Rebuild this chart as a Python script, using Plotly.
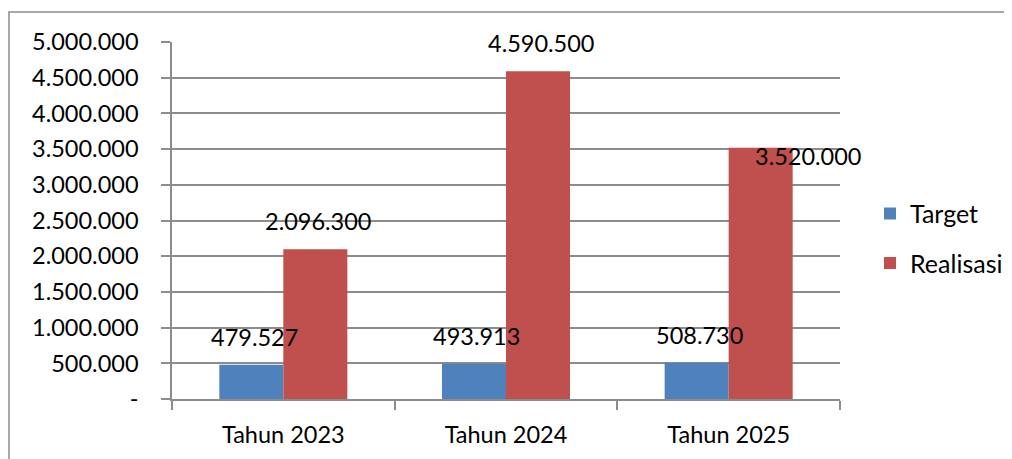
import plotly.graph_objects as go

categories = ["Tahun 2023", "Tahun 2024", "Tahun 2025"]
target = [479527, 493913, 508730]
realisasi = [2096300, 4590500, 3520000]
tick_vals = [0, 500000, 1000000, 1500000, 2000000, 2500000, 3000000, 3500000, 4000000, 4500000, 5000000]

def fmt(v):
    return "-" if v == 0 else f"{v:,}".replace(",", ".")

tick_text = [fmt(v) for v in tick_vals]

BLUE = "#4F81BD"
RED = "#C0504D"
GRID = "#8C8C8C"
FONT = "Lato"
FS = 23.5

# manual label nudges (pixels) as in the original chart
LABEL_NUDGE = {("Realisasi", "Tahun 2025"): (44.5, -36)}

fig = go.Figure()
fig.add_trace(go.Bar(name="Target", x=categories, y=target, marker_color=BLUE,
                     marker_line_width=0, legendgroup="a"))
fig.add_trace(go.Bar(name="Realisasi", x=categories, y=realisasi, marker_color=RED,
                     marker_line_width=0, legendgroup="b"))

# page body adds 8px offset, so figure is drawn in a 1004x451 box
W, H = 1004, 451
ml, mt = 164, 34
pw, ph = 668, 357
mr = W - ml - pw
mb = H - mt - ph
bargap = 0.425
barw = pw / len(categories) * (1 - bargap) / 2

for name, series, shift in (("Target", target, -barw / 2), ("Realisasi", realisasi, barw / 2)):
    for c, v in zip(categories, series):
        dx, dy = LABEL_NUDGE.get((name, c), (0, 0))
        fig.add_annotation(x=c, y=v, text=fmt(v), showarrow=False, xref="x", yref="y",
                           xshift=shift + 3 + dx, yshift=28 + dy,
                           font=dict(family=FONT, size=FS, color="#000"))

# outer chart border
fig.add_shape(type="rect", xref="paper", yref="paper",
              x0=(1 - ml) / pw, x1=(1000 - ml) / pw,
              y0=(H - mb - 470) / ph, y1=(H - mb - 4) / ph,
              line=dict(color="#8C8C8C", width=1.5), layer="below")

fig.update_layout(
    width=W, height=H,
    margin=dict(l=ml, r=mr, t=mt, b=mb, autoexpand=False),
    barmode="group", bargap=bargap, bargroupgap=0,
    plot_bgcolor="white", paper_bgcolor="white",
    font=dict(family=FONT, size=FS, color="#000"),
    showlegend=True,
    legend=dict(x=(862 - ml) / pw, xanchor="left", y=0.45, yanchor="middle",
                font=dict(family=FONT, size=25), tracegroupgap=14,
                itemwidth=30, bgcolor="rgba(0,0,0,0)"),
    xaxis=dict(range=[-0.5, len(categories) - 0.5], autorange=False,
               showline=True, linecolor=GRID, linewidth=1.5, ticks="outside",
               tickson="boundaries", ticklen=9, tickcolor=GRID, tickwidth=1.5,
               showgrid=False, ticklabelstandoff=14),
    yaxis=dict(range=[0, 5000000], autorange=False, tickvals=tick_vals, ticktext=tick_text,
               showline=True, linecolor=GRID, linewidth=1.5,
               ticks="outside", ticklen=9, tickcolor=GRID, tickwidth=1.5,
               showgrid=True, gridcolor=GRID, gridwidth=1.5, zeroline=False,
               ticklabelstandoff=18),
)

fig.write_html("out.html")
